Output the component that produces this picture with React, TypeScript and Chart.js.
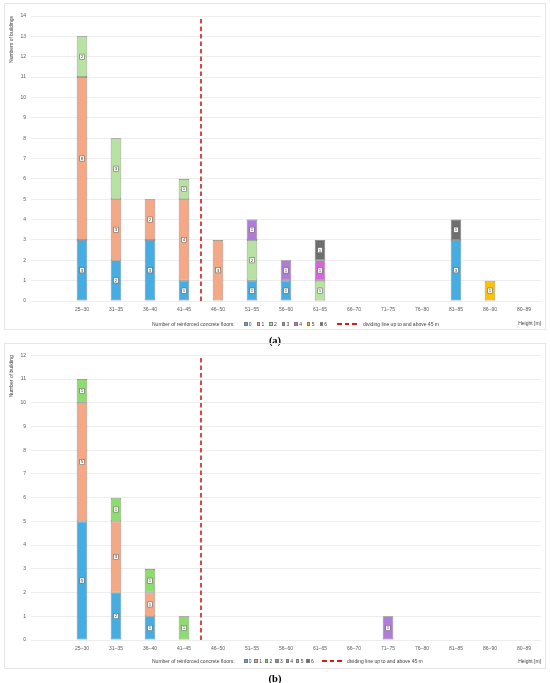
import React, { useEffect, useRef } from 'react';
import { Chart, registerables } from 'chart.js';

Chart.register(...registerables);

// ---------- data ----------
const categories = ['', '25–30', '31–35', '36–40', '41–45', '46–50', '51–55', '56–60', '61–65', '66–70', '71–75', '76–80', '81–85', '86–90', '80–89'];
const floorNames = ['0', '1', '2', '3', '4', '5', '6'];

// (a)
const a0 = [0, 3, 2, 3, 1, 0, 1, 1, 0, 0, 0, 0, 3, 0, 0];
const a1 = [0, 8, 3, 2, 4, 3, 0, 0, 0, 0, 0, 0, 0, 0, 0];
const a2 = [0, 2, 3, 0, 1, 0, 2, 0, 1, 0, 0, 0, 0, 0, 0];
const a3 = [0, 0, 0, 0, 0, 0, 1, 1, 0, 0, 0, 0, 0, 0, 0];
const a4 = [0, 0, 0, 0, 0, 0, 0, 0, 1, 0, 0, 0, 0, 0, 0];
const a5 = [0, 0, 0, 0, 0, 0, 0, 0, 0, 0, 0, 0, 0, 1, 0];
const a6 = [0, 0, 0, 0, 0, 0, 0, 0, 1, 0, 0, 0, 1, 0, 0];

// (b)
const b0 = [0, 5, 2, 1, 0, 0, 0, 0, 0, 0, 0, 0, 0, 0, 0];
const b1 = [0, 5, 3, 1, 0, 0, 0, 0, 0, 0, 0, 0, 0, 0, 0];
const b2 = [0, 1, 1, 1, 1, 0, 0, 0, 0, 0, 0, 0, 0, 0, 0];
const b3 = [0, 0, 0, 0, 0, 0, 0, 0, 0, 0, 1, 0, 0, 0, 0];
const b4 = [0, 0, 0, 0, 0, 0, 0, 0, 0, 0, 0, 0, 0, 0, 0];
const b5 = [0, 0, 0, 0, 0, 0, 0, 0, 0, 0, 0, 0, 0, 0, 0];
const b6 = [0, 0, 0, 0, 0, 0, 0, 0, 0, 0, 0, 0, 0, 0, 0];

const dividerIndex = 4.5; // between 41–45 and 46–50
const yMaxA = 14;
const yMaxB = 12;
const dividerLabel = 'dividing line up to and above 45 m';
const legendTitle = 'Number of reinforced concrete floors:';
const xTitle = 'Height [m]';
const yTitleA = 'Numbers of buildings';
const yTitleB = 'Number of building';

const colorsA = ['#45ADE2', '#F4A886', '#B8E2A2', '#B07CDA', '#D466D8', '#FFC000', '#6E6E6E'];
const colorsB = ['#45ADE2', '#F4A886', '#8EDB6F', '#B07CDA', '#D466D8', '#FFC000', '#6E6E6E'];

const FONT = '"Liberation Sans", Arial, sans-serif';

const valueLabels = {
  id: 'valueLabels',
  afterDatasetsDraw(chart: any) {
    const ctx = chart.ctx;
    ctx.save();
    chart.data.datasets.forEach((ds: any, di: number) => {
      if (ds.type === 'line') return;
      const meta = chart.getDatasetMeta(di);
      meta.data.forEach((el: any, i: number) => {
        const v = ds.data[i];
        if (!v) return;
        const { x, y, base } = el.getProps(['x', 'y', 'base'], true);
        const cy = (y + base) / 2;
        ctx.font = '4.4px ' + FONT;
        const t = String(v);
        const tw = ctx.measureText(t).width;
        const w = tw + 2;
        const h = 5.2;
        ctx.fillStyle = '#ffffff';
        ctx.fillRect(x - w / 2, cy - h / 2, w, h);
        ctx.strokeStyle = '#555555';
        ctx.lineWidth = 0.5;
        ctx.strokeRect(x - w / 2, cy - h / 2, w, h);
        ctx.fillStyle = '#333333';
        ctx.textAlign = 'center';
        ctx.textBaseline = 'middle';
        ctx.fillText(t, x, cy + 0.2);
      });
    });
    ctx.restore();
  },
};

type PanelCfg = {
  top: number;
  height: number;
  padTop: number;
  titlePadBottom: number;
  series: number[][];
  colors: string[];
  yMax: number;
  yTitle: string;
  legendY: number;
  itemGap: number;
  lineGapBefore: number;
  lineWidth: number;
};

function Legend({ cfg }: { cfg: PanelCfg }) {
  return (
    <div
      style={{
        position: 'absolute',
        left: 152,
        top: cfg.legendY - 4,
        height: 8,
        display: 'flex',
        alignItems: 'center',
        fontFamily: FONT,
        fontSize: '5px',
        color: '#404040',
        whiteSpace: 'nowrap',
      }}
    >
      <span style={{ marginRight: 9.5 }}>{legendTitle}</span>
      {floorNames.map((n, i) => (
        <span key={n} style={{ display: 'flex', alignItems: 'center', marginRight: i === floorNames.length - 1 ? 0 : cfg.itemGap }}>
          <span
            style={{
              display: 'inline-block',
              width: 3.5,
              height: 3.5,
              boxSizing: 'border-box',
              background: cfg.colors[i],
              border: '0.5px solid #7a7a7a',
              marginRight: 1.3,
            }}
          />
          <span>{n}</span>
        </span>
      ))}
      <span
        style={{
          display: 'inline-block',
          width: cfg.lineWidth,
          height: 1.5,
          marginLeft: cfg.lineGapBefore,
          marginRight: 5,
          background: 'repeating-linear-gradient(90deg, #D01C1C 0px, #D01C1C 4.5px, transparent 4.5px, transparent 7.5px)',
        }}
      />
      <span>{dividerLabel}</span>
    </div>
  );
}

function Panel({ cfg }: { cfg: PanelCfg }) {
  const ref = useRef<HTMLCanvasElement>(null);
  useEffect(() => {
    const datasets: any[] = cfg.series.map((s, i) => ({
      type: 'bar',
      label: floorNames[i],
      data: s.map((v) => (v ? v : null)),
      backgroundColor: cfg.colors[i],
      borderColor: '#7a7a7a',
      borderWidth: 0.8,
      borderSkipped: false,
      barPercentage: 0.31,
      categoryPercentage: 1,
      grouped: false,
      xAxisID: 'x',
    }));
    datasets.push({
      type: 'line',
      label: dividerLabel,
      data: [
        { x: dividerIndex, y: 0 },
        { x: dividerIndex, y: cfg.yMax },
      ],
      xAxisID: 'xLine',
      borderColor: '#D01C1C',
      borderWidth: 1.6,
      borderDash: [4.5, 3],
      pointRadius: 0,
      fill: false,
    });
    const chart = new Chart(ref.current!, {
      type: 'bar',
      data: { labels: categories, datasets },
      plugins: [valueLabels],
      options: {
        animation: false,
        responsive: false,
        devicePixelRatio: 1,
        layout: { padding: { left: 4, right: 5, top: cfg.padTop, bottom: 0 } },
        plugins: { legend: { display: false }, tooltip: { enabled: false } },
        scales: {
          x: {
            type: 'category',
            stacked: true,
            grid: { display: false, drawTicks: false },
            border: { display: false },
            ticks: { font: { family: FONT, size: 5 }, color: '#595959', padding: 6, maxRotation: 0, autoSkip: false },
            title: {
              display: true,
              text: xTitle,
              align: 'end',
              color: '#404040',
              font: { family: FONT, size: 5 },
              padding: { top: 0, bottom: cfg.titlePadBottom },
            },
            afterFit: (s: any) => {
              s.height = 29;
            },
          },
          xLine: {
            type: 'linear',
            display: false,
            offset: false,
            grid: { offset: false },
            min: -0.5,
            max: categories.length - 0.5,
          },
          y: {
            stacked: true,
            min: 0,
            max: cfg.yMax,
            ticks: { stepSize: 1, font: { family: FONT, size: 5 }, color: '#595959', padding: 5 },
            grid: { color: '#e8e8e8', lineWidth: 0.8, drawTicks: false },
            border: { display: false },
            title: {
              display: true,
              text: cfg.yTitle,
              align: 'end',
              color: '#404040',
              font: { family: FONT, size: 5 },
              padding: { top: 1, bottom: 0 },
            },
            afterFit: (s: any) => {
              s.width = 23;
            },
          },
        },
      } as any,
    });
    return () => chart.destroy();
  }, []);
  return (
    <>
      <div
        style={{
          position: 'absolute',
          left: 4,
          top: cfg.top,
          width: 542,
          height: cfg.height,
          boxSizing: 'border-box',
          border: '1px solid #e6e6e6',
        }}
      />
      <canvas
        ref={ref}
        width={542}
        height={cfg.height}
        style={{ position: 'absolute', left: 4, top: cfg.top, width: 542, height: cfg.height }}
      />
      <Legend cfg={cfg} />
    </>
  );
}

const panelA: PanelCfg = {
  top: 3,
  height: 327,
  padTop: 13,
  titlePadBottom: 3,
  series: [a0, a1, a2, a3, a4, a5, a6],
  colors: colorsA,
  yMax: yMaxA,
  yTitle: yTitleA,
  legendY: 324,
  itemGap: 5,
  lineGapBefore: 10,
  lineWidth: 21,
};

const panelB: PanelCfg = {
  top: 343,
  height: 326,
  padTop: 12.3,
  titlePadBottom: 4,
  series: [b0, b1, b2, b3, b4, b5, b6],
  colors: colorsB,
  yMax: yMaxB,
  yTitle: yTitleB,
  legendY: 661,
  itemGap: 2.8,
  lineGapBefore: 8,
  lineWidth: 20,
};

const captionStyle: React.CSSProperties = {
  position: 'absolute',
  left: 0,
  width: 550,
  textAlign: 'center',
  fontFamily: '"Liberation Serif", "Times New Roman", serif',
  fontWeight: 'bold',
  fontSize: '10.5px',
  lineHeight: '12px',
  color: '#000',
};

export default function App() {
  return (
    <div style={{ position: 'absolute', left: 0, top: 0, width: 550, height: 683, background: '#fff', overflow: 'hidden' }}>
      <Panel cfg={panelA} />
      <div style={{ ...captionStyle, top: 335 }}>(a)</div>
      <Panel cfg={panelB} />
      <div style={{ ...captionStyle, top: 673 }}>(b)</div>
    </div>
  );
}
